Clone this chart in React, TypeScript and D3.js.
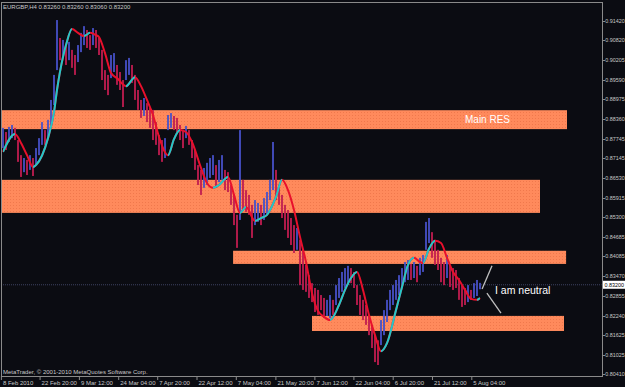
import React from "react";
import * as d3 from "d3";

const W = 625;
const H = 387;

// H4 bars (high / low)
const barHigh = [
  0.8809, 0.8796, 0.8812, 0.8818, 0.8809, 0.8771, 0.8724, 0.8715, 0.8709, 0.8724,
  0.8715, 0.8746, 0.8777, 0.8827, 0.8802, 0.8834, 0.8896, 0.8974, 0.9145, 0.9089,
  0.9083, 0.9067, 0.9077, 0.9052, 0.9036, 0.9067, 0.9105, 0.9126, 0.9114, 0.9098,
  0.912, 0.9114, 0.9089, 0.9052, 0.8989, 0.8974, 0.9036, 0.9042, 0.9005, 0.8983,
  0.8958, 0.902, 0.9027, 0.9005, 0.8974, 0.8927, 0.8896, 0.8902, 0.8886, 0.8871,
  0.8865, 0.8827, 0.8787, 0.8771, 0.8777, 0.8849, 0.8855, 0.8846, 0.884, 0.8818,
  0.8802, 0.8815, 0.8802, 0.8771, 0.874, 0.8693, 0.8678, 0.8684, 0.87, 0.8715,
  0.8724, 0.8693, 0.8709, 0.8724, 0.8678, 0.8671, 0.8631, 0.86, 0.8538, 0.8802,
  0.8647, 0.8615, 0.86, 0.8569, 0.8584, 0.8575, 0.8569, 0.859, 0.8609, 0.8647,
  0.8765, 0.8678, 0.8631, 0.86, 0.8569, 0.8553, 0.8528, 0.8506, 0.8497, 0.846,
  0.8429, 0.8382, 0.835, 0.8325, 0.831, 0.8304, 0.8288, 0.8279, 0.8273, 0.8288,
  0.8273, 0.8319, 0.8341, 0.836, 0.8372, 0.8379, 0.8372, 0.836, 0.8319, 0.8288,
  0.8273, 0.8257, 0.8226, 0.8195, 0.8163, 0.8147, 0.821, 0.8241, 0.8273, 0.8304,
  0.8319, 0.8335, 0.835, 0.8372, 0.8391, 0.8397, 0.8385, 0.8391, 0.8379, 0.8404,
  0.8413, 0.8516, 0.8528, 0.8484, 0.846, 0.8429, 0.8404, 0.8391, 0.8413, 0.8382,
  0.8372, 0.8366, 0.8341, 0.8319, 0.831, 0.8319, 0.8304, 0.8325, 0.8335, 0.8326,
];
const barLow = [
  0.8746, 0.874, 0.8765, 0.8777, 0.8771, 0.8703, 0.8656, 0.8671, 0.8662, 0.8678,
  0.8659, 0.8693, 0.8724, 0.8756, 0.8756, 0.8777, 0.8818, 0.888, 0.8989, 0.902,
  0.9027, 0.9005, 0.902, 0.8996, 0.8974, 0.9014, 0.9045, 0.9067, 0.9058, 0.9052,
  0.9067, 0.9058, 0.9036, 0.8958, 0.8927, 0.8911, 0.8964, 0.8983, 0.8943, 0.8927,
  0.8874, 0.8958, 0.8974, 0.8949, 0.8896, 0.8865, 0.884, 0.8846, 0.8827, 0.8809,
  0.8771, 0.8756, 0.8724, 0.8703, 0.8715, 0.8802, 0.8809, 0.8802, 0.8796, 0.8771,
  0.8746, 0.8777, 0.8756, 0.8715, 0.8678, 0.8631, 0.86, 0.8622, 0.8631, 0.8653,
  0.8662, 0.8622, 0.864, 0.8647, 0.8615, 0.8609, 0.8569, 0.8506, 0.8435, 0.8522,
  0.8553, 0.8547, 0.8538, 0.8466, 0.8506, 0.8516, 0.8506, 0.8522, 0.8538, 0.8584,
  0.8615, 0.8584, 0.8569, 0.8528, 0.8491, 0.8466, 0.8444, 0.8419, 0.8429, 0.8319,
  0.8304, 0.8298, 0.8279, 0.8266, 0.8235, 0.8226, 0.8241, 0.8216, 0.8223, 0.8216,
  0.8226, 0.8257, 0.8279, 0.8298, 0.831, 0.8319, 0.8325, 0.831, 0.8257, 0.8226,
  0.821, 0.8195, 0.8163, 0.8123, 0.8079, 0.807, 0.8132, 0.8163, 0.8204, 0.8241,
  0.8257, 0.8273, 0.8288, 0.831, 0.8328, 0.8335, 0.8335, 0.8341, 0.8328, 0.835,
  0.836, 0.8429, 0.845, 0.8404, 0.8382, 0.8366, 0.8328, 0.8319, 0.8341, 0.8313,
  0.8304, 0.831, 0.8273, 0.8251, 0.8257, 0.8266, 0.8273, 0.8279, 0.8285, 0.8306,
];

// moving average (bar index, value)
const maIndex = [
  0, 4, 6, 8, 10, 11, 15, 17, 18, 20, 21, 23, 25, 27, 29, 31, 32, 34, 36, 38,
  41, 44, 46, 48, 50, 52, 55, 57, 59, 61, 63, 66, 68, 70, 72, 75, 77, 79, 81, 84,
  86, 88, 91, 93, 95, 97, 99, 101, 103, 105, 107, 109, 112, 114, 116, 118, 120, 122, 124, 126,
  128, 131, 133, 135, 137, 139, 140, 142, 144, 146, 148, 150, 152, 154, 156, 158, 159,
];
const maValue = [
  0.8734, 0.879, 0.8762, 0.8724, 0.8687, 0.8693, 0.8777, 0.8858, 0.8927, 0.903,
  0.9067, 0.9117, 0.9105, 0.9095, 0.9105, 0.9098, 0.9092, 0.9042, 0.898, 0.8964,
  0.8939, 0.8967, 0.8939, 0.8896, 0.8849, 0.8781, 0.8724, 0.8774, 0.8802, 0.8796,
  0.8765, 0.8684, 0.8637, 0.8622, 0.8631, 0.8656, 0.86, 0.8544, 0.8562, 0.8519,
  0.8528, 0.8538, 0.8594, 0.8647, 0.8615, 0.8553, 0.8469, 0.8391, 0.8294, 0.8238,
  0.822, 0.821, 0.8257, 0.8304, 0.8341, 0.836, 0.8304, 0.8226, 0.8163, 0.8113,
  0.8138, 0.8241, 0.8313, 0.8382, 0.8404, 0.8391, 0.8388, 0.8432, 0.8457, 0.845,
  0.8404, 0.836, 0.8335, 0.8304, 0.8276, 0.8273, 0.8279,
];

const priceTicks = [
  "0.91420", "0.90820", "0.90205", "0.89590", "0.88975", "0.88360", "0.87745",
  "0.87145", "0.86530", "0.85915", "0.85300", "0.84685", "0.84085", "0.83470",
  "0.82855", "0.82240", "0.81625", "0.81025", "0.80410",
];
const currentPrice = "0.83200";

const timeLabels = [
  "8 Feb 2010", "22 Feb 20:00", "9 Mar 12:00", "24 Mar 04:00", "7 Apr 20:00",
  "22 Apr 12:00", "7 May 04:00", "21 May 20:00", "7 Jun 12:00", "22 Jun 04:00",
  "6 Jul 20:00", "21 Jul 12:00", "5 Aug 04:00",
];
const timeLabelIdx = [-0.7, 12.2, 25.3, 38.4, 51.4, 64.5, 77.6, 90.8, 103.8, 116.8, 129.9, 143.0, 156.1];

// support / resistance zones: [top price, bottom price, start idx, end idx]
const zoneTop = [0.8864, 0.8647, 0.8426, 0.8223];
const zoneBottom = [0.8805, 0.8544, 0.8385, 0.8176];
const zoneStart = [-0.4, -0.4, 76.7, 103];
const zoneEnd = [188, 179, 187.7, 187];

const title = "EURGBP,H4  0.83260 0.83260 0.83060 0.83200";
const copyright = "MetaTrader, \u00a9 2001-2010 MetaQuotes Software Corp.";

export default function App() {
  const x = d3.scaleLinear().domain([0, 159]).range([3, 480]);
  const y = d3.scaleLinear().domain([0.8041, 0.9142]).range([374.3, 21]);

  const font = "'Liberation Sans', Arial, sans-serif";
  const axisColor = "#8a8a8a";
  const textColor = "#c8c8c8";

  const maPts: [number, number][] = maIndex.map((d, i) => [x(d), y(maValue[i])]);
  const maPath = d3.line().curve(d3.curveMonotoneX)(maPts) || "";
  const rising: [number, number][] = [];
  for (let i = 0; i < maIndex.length - 1; i++) {
    if (maValue[i + 1] > maValue[i]) rising.push([x(maIndex[i]), x(maIndex[i + 1])]);
  }

  const mids = barHigh.map((h, i) => (h + barLow[i]) / 2);

  return (
    <svg width={W} height={H} style={{ position: "absolute", left: 0, top: 0, display: "block" }}>
      <defs>
        <pattern id="dots" width="3" height="3" patternUnits="userSpaceOnUse">
          <rect width="3" height="3" fill="#ff8a5c" />
          <rect x="1" y="1" width="1" height="1" fill="#f0784c" />
        </pattern>
        <clipPath id="plot">
          <rect x={1.5} y={2.5} width={600} height={373} />
        </clipPath>
        <clipPath id="rise">
          {rising.map(([a, b], i) => (
            <rect key={i} x={a} y={0} width={b - a} height={H} />
          ))}
        </clipPath>
      </defs>
      <rect width={W} height={H} fill="#0b0c12" />

      <g clipPath="url(#plot)">
        {zoneTop.map((t, i) => (
          <rect
            key={i}
            x={x(zoneStart[i])}
            y={y(t)}
            width={x(zoneEnd[i]) - x(zoneStart[i])}
            height={y(zoneBottom[i]) - y(t)}
            fill="url(#dots)"
          />
        ))}

        {/* current price dotted line */}
        <line
          x1={1}
          x2={602}
          y1={y(+currentPrice)}
          y2={y(+currentPrice)}
          stroke="#3e4262"
          strokeWidth={1}
          strokeDasharray="1,1"
        />

        {barHigh.map((h, i) => {
          const up = i === 0 ? true : mids[i] >= mids[i - 1];
          return (
            <rect
              key={i}
              x={x(i) - 0.9}
              y={y(h)}
              width={1.8}
              height={Math.max(1, y(barLow[i]) - y(h))}
              fill={up ? "#4650c8" : "#c01c50"}
            />
          );
        })}

        <path d={maPath} fill="none" stroke="#e8102c" strokeWidth={2} />
        <path d={maPath} fill="none" stroke="#22c8c8" strokeWidth={2} clipPath="url(#rise)" />

        <text x={x(154)} y={y(0.8835) + 3.5} fill="#ffffff" fontFamily={font} fontSize={10}>
          Main RES
        </text>

        <line x1={x(159.7)} y1={y(0.8307)} x2={x(163)} y2={y(0.8379)} stroke="#c0c0c0" strokeWidth={1.3} />
        <line x1={x(161.3)} y1={y(0.8294)} x2={x(166)} y2={y(0.8232)} stroke="#c0c0c0" strokeWidth={1.3} />
        <text x={x(164)} y={y(0.8304) + 4} fill="#ffffff" fontFamily={font} fontSize={10.5}>
          I am neutral
        </text>
      </g>

      {/* frame */}
      <line x1={1.5} x2={1.5} y1={2} y2={376} stroke={axisColor} />
      <line x1={1} x2={602.5} y1={2.5} y2={2.5} stroke={axisColor} />
      <line x1={602.5} x2={602.5} y1={2} y2={377} stroke={axisColor} />
      <line x1={1} x2={602.5} y1={376.5} y2={376.5} stroke={axisColor} />

      {/* price axis */}
      {priceTicks.map((t, i) => (
        <g key={i}>
          <line x1={602} x2={605} y1={Math.round(y(+t)) + 0.5} y2={Math.round(y(+t)) + 0.5} stroke={axisColor} />
          <text x={605.3} y={y(+t) + 2} fill={textColor} fontFamily={font} fontSize={5.4}>
            {t}
          </text>
        </g>
      ))}
      <rect x={603} y={y(+currentPrice) - 4} width={22} height={8} fill="#ffffff" />
      <text x={604.5} y={y(+currentPrice) + 2} fill="#000000" fontFamily={font} fontSize={5.4}>
        {currentPrice}
      </text>

      {/* time axis */}
      {timeLabels.map((t, i) => (
        <g key={i}>
          <line x1={x(timeLabelIdx[i]) + 0.5} x2={x(timeLabelIdx[i]) + 0.5} y1={376} y2={380} stroke={axisColor} />
          <text x={x(timeLabelIdx[i]) + 2} y={385} fill={textColor} fontFamily={font} fontSize={6}>
            {t}
          </text>
        </g>
      ))}

      <text x={3} y={9} fill={textColor} fontFamily={font} fontSize={6}>
        {title}
      </text>
      <text x={3} y={373.5} fill={textColor} fontFamily={font} fontSize={6}>
        {copyright}
      </text>
    </svg>
  );
}
